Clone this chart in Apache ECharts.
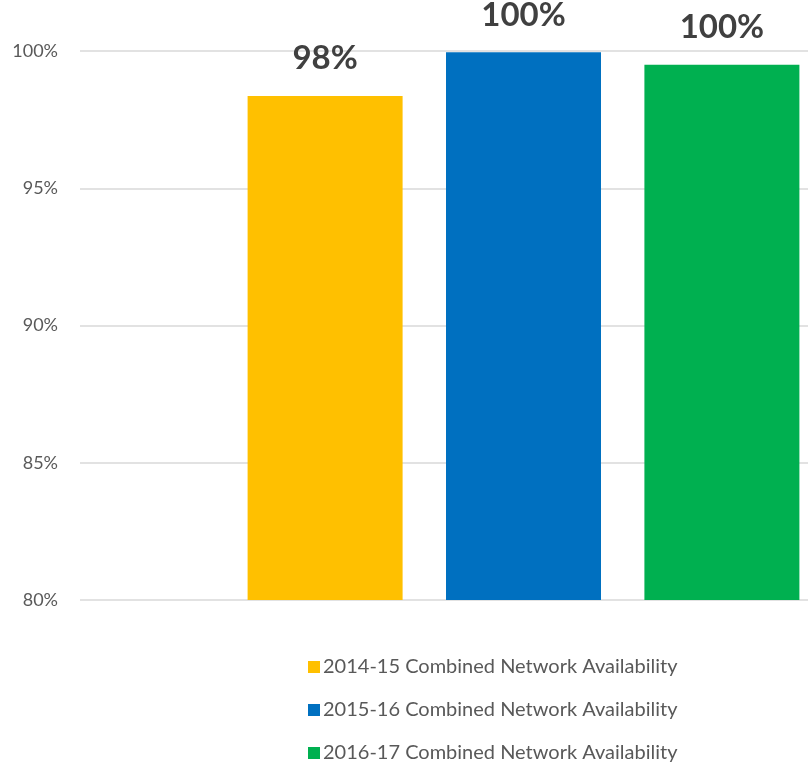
<!DOCTYPE html>
<html>
<head>
<meta charset="utf-8">
<script src="https://cdn.jsdelivr.net/npm/echarts@6/dist/echarts.min.js"></script>
<style>
  html, body { margin: 0; padding: 0; background: #fff; }
  #chart { width: 808px; height: 772px; }
</style>
</head>
<body>
<div id="chart"></div>
<script>
// Combined network availability by financial year (percent)
const seriesNames = [
  '2014-15 Combined Network Availability',
  '2015-16 Combined Network Availability',
  '2016-17 Combined Network Availability'
];
const availability = [98.36, 99.95, 99.5];
const seriesColors = ['#FFC000', '#0070C0', '#00B050'];
const categories = [''];
const yMin = 80, yMax = 100, yStep = 5;

const chart = echarts.init(document.getElementById('chart'));
const fontFamily = 'Lato, "Open Sans", sans-serif';

const plotTop = 51, plotBottom = 172;

chart.setOption({
  animation: false,
  textStyle: { fontFamily: fontFamily },
  grid: [
    // full-width frame carrying the value axis labels and gridlines
    { left: 80, right: 0, top: plotTop, bottom: plotBottom },
    // bar area, offset so the bar group sits right of centre
    { left: 239, right: 0, top: plotTop, bottom: plotBottom }
  ],
  legend: {
    orient: 'vertical',
    left: 303,
    top: 652,
    itemWidth: 12,
    itemHeight: 12,
    itemGap: 23,
    icon: 'rect',
    textStyle: { fontFamily: fontFamily, fontSize: 20, color: '#595959', padding: [0, 0, 0, -2] },
    data: seriesNames
  },
  xAxis: [
    { type: 'category', gridIndex: 0, data: categories, show: false },
    { type: 'category', gridIndex: 1, data: categories, show: false }
  ],
  yAxis: [
    {
      type: 'value',
      gridIndex: 0,
      min: yMin,
      max: yMax,
      interval: yStep,
      axisLine: { show: false },
      axisTick: { show: false },
      axisLabel: {
        formatter: v => v + '%',
        color: '#595959',
        fontSize: 18,
        margin: 22
      },
      splitLine: { lineStyle: { color: '#D9D9D9', width: 1.5 } }
    },
    {
      type: 'value',
      gridIndex: 1,
      min: yMin,
      max: yMax,
      interval: yStep,
      show: false,
      splitLine: { show: false }
    }
  ],
  series: seriesNames.map((name, i) => ({
    name: name,
    type: 'bar',
    xAxisIndex: 1,
    yAxisIndex: 1,
    barWidth: 155,
    barGap: '28%',
    itemStyle: { color: seriesColors[i] },
    label: {
      show: true,
      position: 'top',
      distance: 21,
      formatter: p => Math.round(p.value) + '%',
      fontSize: 33,
      fontWeight: 'bold',
      color: '#404040',
      fontFamily: fontFamily
    },
    data: [availability[i]]
  }))
});
</script>
</body>
</html>
